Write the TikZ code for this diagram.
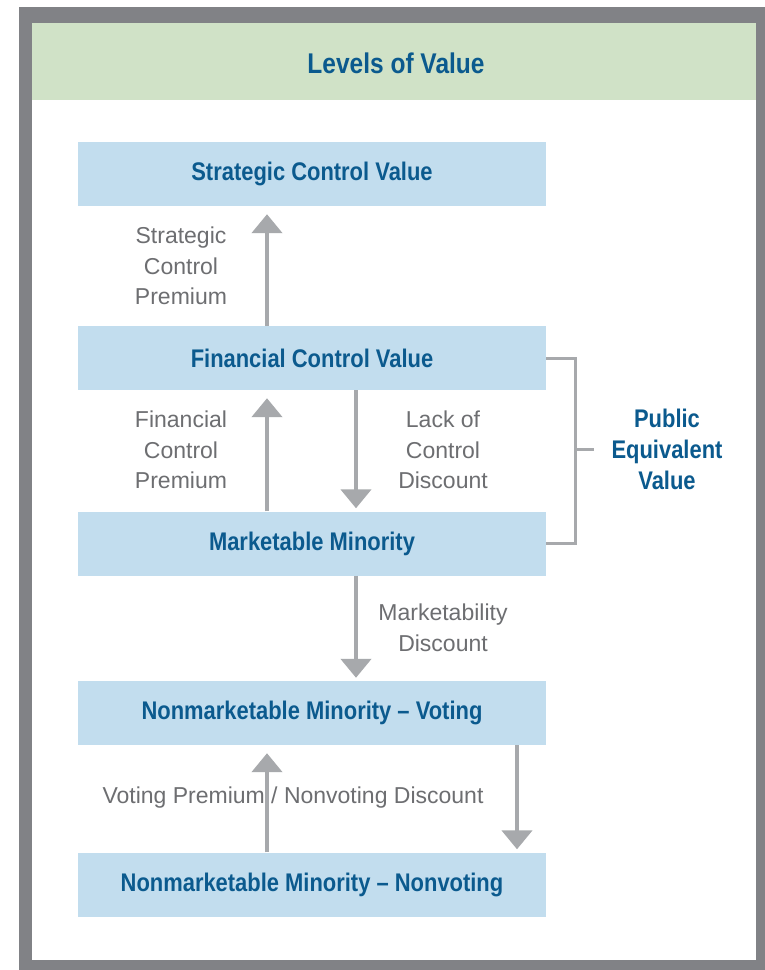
\documentclass[tikz,border=0pt]{standalone}
\usepackage{fontspec}
\setmainfont{Liberation Sans}
\newfontfamily\boxfont[FakeStretch=0.86]{Liberation Sans Bold}
\newfontfamily\labelfont{Liberation Sans}
\usetikzlibrary{arrows.meta}
\definecolor{frame}{HTML}{818286}
\definecolor{band}{HTML}{D0E2C7}
\definecolor{boxblue}{HTML}{C2DDEE}
\definecolor{inkblue}{HTML}{0B5A8E}
\definecolor{arrowgray}{HTML}{A7A9AC}
\definecolor{labelgray}{HTML}{6D6E71}
\begin{document}
\begin{tikzpicture}[x=1pt,y=-1pt,
  level/.style={fill=boxblue, minimum width=468pt, minimum height=64pt,
    inner sep=0pt, font=\boxfont\fontsize{25.5}{28}\selectfont, text=inkblue},
  flow/.style={draw=arrowgray, line width=4.5pt,
    -{Triangle[width=30pt,length=19pt]}},
  note/.style={font=\labelfont\fontsize{23}{30.5}\selectfont, text=labelgray,
    align=center, inner sep=0pt},
  bracket/.style={draw=arrowgray, line width=3pt}]
\useasboundingbox (0,0) rectangle (765,970);
% frame and title band
\fill[frame] (19,7) rectangle (765,970);
\fill[white] (32,23) rectangle (756,960);
\fill[band] (32,23) rectangle (756,100);
\node[font=\boxfont\fontsize{28.5}{32}\selectfont, text=inkblue] (title) at (396,63) {Levels of Value};

% levels of value
\node[level] (scv) at (312,174) {Strategic Control Value};
\node[level] (fcv) at (312,358) {Financial Control Value};
\node[level] (mm)  at (312,543.5) {Marketable Minority};
\node[level] (nmv) at (312,713) {Nonmarketable Minority – Voting};
\node[level] (nmn) at (312,884.5) {Nonmarketable Minority – Nonvoting};

% premiums (up) and discounts (down)
\draw[flow] (fcv.north -| 267,0) -- ([yshift=-8pt]scv.south -| 267,0);
\draw[flow] (mm.north -| 267,0)  -- ([yshift=-8pt]fcv.south -| 267,0);
\draw[flow] (fcv.south -| 356,0) -- ([yshift=3pt]mm.north -| 356,0);
\draw[flow] (mm.south -| 356,0)  -- ([yshift=3pt]nmv.north -| 356,0);
\draw[flow] (nmn.north -| 267,0) -- ([yshift=-8pt]nmv.south -| 267,0);
\draw[flow] (nmv.south -| 517,0) -- ([yshift=3pt]nmn.north -| 517,0);

\node[note] (scp) at (181,266) {Strategic\\Control\\Premium};
\node[note] (fcp) at (181,450) {Financial\\Control\\Premium};
\node[note] (lcd) at (443,450) {Lack of\\Control\\Discount};
\node[note] (mkd) at (443,628) {Marketability\\Discount};
\node[note] (vpd) at (293,798) {Voting Premium / Nonvoting Discount};

% public equivalent value bracket
\coordinate (bt) at (575,0);
\draw[bracket] (fcv.east) -- (fcv.east -| bt) -- (mm.east -| bt) -- (mm.east);
\coordinate (bm) at (575,449);
\draw[bracket] (bm) -- ++(19,0);
\node[font=\boxfont\fontsize{25.5}{31}\selectfont, text=inkblue, align=center]
  (pev) at (667,449) {Public\\Equivalent\\Value};
\end{tikzpicture}
\end{document}
